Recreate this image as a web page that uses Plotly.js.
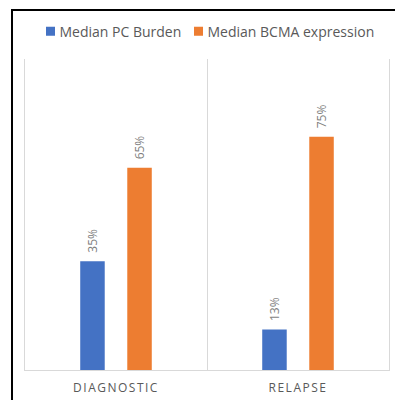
<!DOCTYPE html>
<html>
<head>
<meta charset="utf-8">
<script src="https://cdn.plot.ly/plotly-3.0.1.min.js"></script>
<style>
  html, body { margin: 0; padding: 0; background: #fff; }
  #chart { width: 395px; height: 400px; }
  #chart .xtick text { letter-spacing: 1.5px; }
  /* smaller legend swatches, placed close to their text */
  #chart .legendpoints path { transform: translate(31px, 0) scale(0.75); }
</style>
</head>
<body>
<div id="chart"></div>
<script>
// Stage categories and the two median series (percent)
const stages = ["DIAGNOSTIC", "RELAPSE"];
const pcBurden = [35, 13];
const bcmaExpression = [65, 75];
const seriesNames = ["Median PC Burden", "Median BCMA expression"];
const seriesColors = ["#4472C4", "#ED7D31"];
const legendIds = ["legend", "legend2"];

const FONT = "Open Sans, Noto Sans, sans-serif";

const traces = [pcBurden, bcmaExpression].map((vals, i) => ({
  type: "bar",
  name: seriesNames[i],
  x: stages,
  y: vals,
  legend: legendIds[i],
  marker: { color: seriesColors[i] },
  hoverinfo: "skip"
}));

// Value labels, rotated, sitting just above each bar
const slotShift = [-23.5, 23.5];
const annotations = [];
[pcBurden, bcmaExpression].forEach((vals, i) => {
  vals.forEach((v, j) => {
    annotations.push({
      x: stages[j], y: v, xref: "x", yref: "y",
      text: v + "%", showarrow: false, textangle: -90,
      xanchor: "center", yanchor: "bottom",
      xshift: slotShift[i], yshift: 6,
      font: { family: FONT, size: 12, color: "#7f7f7f" }
    });
  });
});

// one single-entry legend per series, laid out side by side
const legendBase = {
  orientation: "h",
  xanchor: "left",
  y: 1.088, yanchor: "middle",
  bgcolor: "rgba(0,0,0,0)",
  font: { family: FONT, size: 14, color: "#595959" },
  itemclick: false, itemdoubleclick: false
};

const layout = {
  width: 395, height: 400,
  margin: { l: 25, r: 6, t: 59, b: 30 },
  paper_bgcolor: "#ffffff", plot_bgcolor: "#ffffff",
  barmode: "group",
  bargap: 0.483,
  bargroupgap: 0.479,
  font: { family: FONT, color: "#595959" },
  xaxis: {
    type: "category",
    tickson: "boundaries",
    showgrid: true, gridcolor: "#d9d9d9", gridwidth: 1,
    showline: true, linecolor: "#d9d9d9", linewidth: 1,
    ticks: "", ticklen: 0,
    tickfont: { family: FONT, size: 12, color: "#595959" },
    ticklabelstandoff: 7,
    range: [-0.5, 1.5],
    zeroline: false, fixedrange: true
  },
  yaxis: {
    range: [0, 100],
    showgrid: false, zeroline: false,
    showline: true, mirror: true, linecolor: "#d9d9d9", linewidth: 1,
    showticklabels: false, ticks: "", fixedrange: true
  },
  legend: Object.assign({}, legendBase, { x: -0.0151 }),
  legend2: Object.assign({}, legendBase, { x: 0.3915 }),
  showlegend: true,
  annotations: annotations,
  // outer frame edge (left and top)
  shapes: [{
    type: "path", xref: "paper", yref: "paper",
    path: "M -0.0357,-0.2 L -0.0357,1.1576 L 1.2,1.1576",
    line: { color: "#000000", width: 2 }
  }]
};

Plotly.newPlot("chart", traces, layout, { displayModeBar: false, staticPlot: true });
</script>
</body>
</html>
